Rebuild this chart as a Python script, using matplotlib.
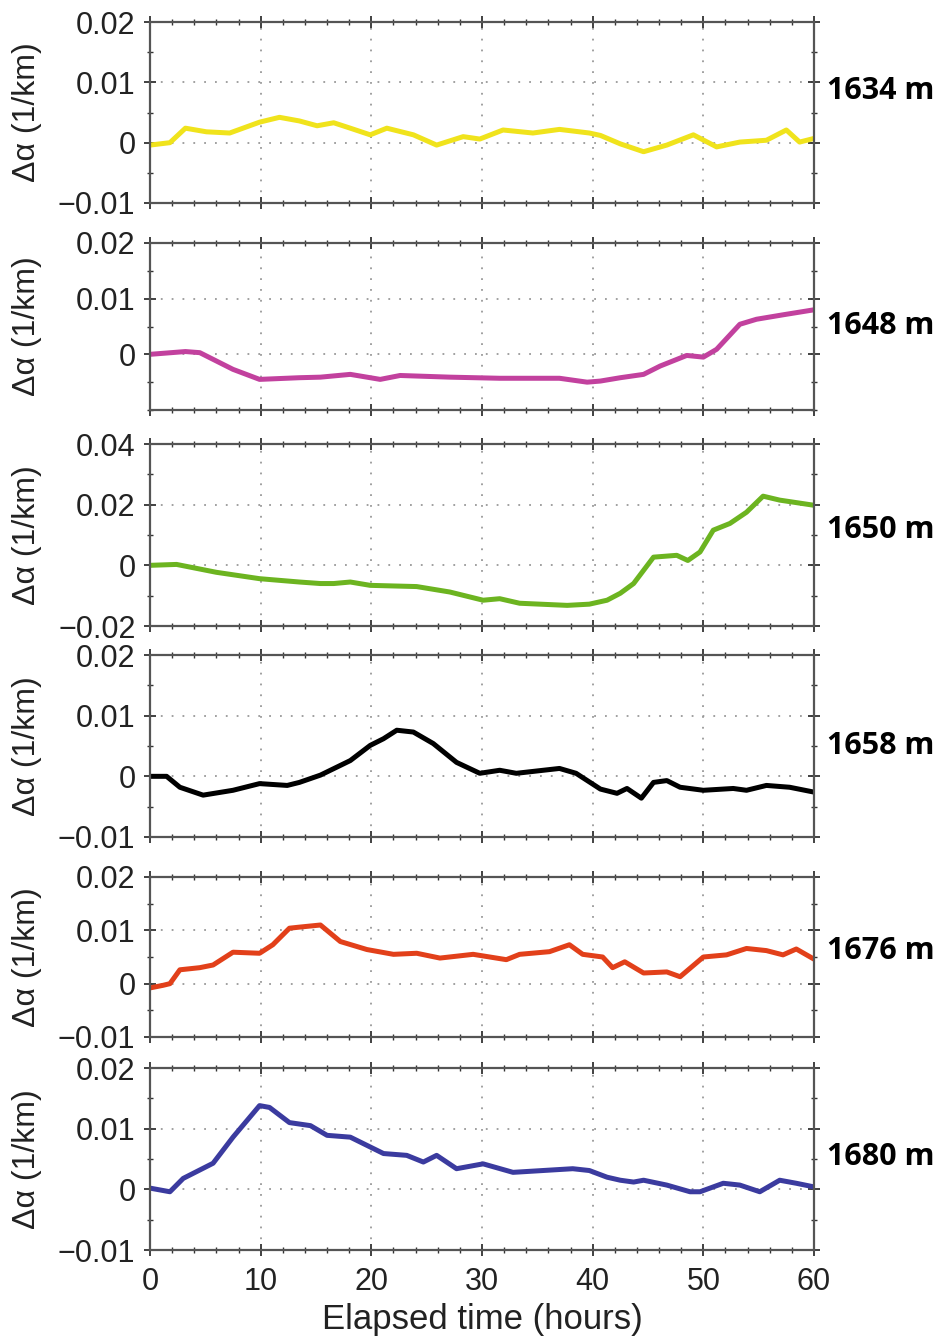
import matplotlib
matplotlib.use("Agg")
import matplotlib.pyplot as plt
from matplotlib.ticker import MultipleLocator, FuncFormatter

plt.rcParams['font.family'] = ['Liberation Sans', 'DejaVu Sans']

# depth labels and line colours
depths = ['1634 m', '1648 m', '1650 m', '1658 m', '1676 m', '1680 m']
colors = ['#f0e31c', '#c2419e', '#6cb420', '#000000', '#e2401a', '#3b3b9f']

# series (hours, 1/km)
t1 = [0, 1.8, 3.2, 5.1, 7.2, 9.9, 11.7, 13.5, 15.1, 16.6, 18.1, 19.9, 21.4, 23.8,
      25.9, 28.3, 29.8, 31.9, 34.6, 37.0, 39.7, 40.7, 42.5, 44.6, 46.7, 49.1, 51.2,
      53.3, 55.7, 57.5, 58.7, 60]
a1 = [-0.0004, 0.0, 0.0024, 0.0018, 0.0016, 0.0034, 0.0042, 0.0036, 0.0028, 0.0033,
      0.0024, 0.0013, 0.0024, 0.0013, -0.0004, 0.001, 0.0006, 0.0021, 0.0016, 0.0022,
      0.0016, 0.0012, -0.0002, -0.0015, -0.0004, 0.0013, -0.0007, 0.0001, 0.0004,
      0.0021, 0.0001, 0.0007]

t2 = [0, 3.2, 4.5, 7.5, 9.9, 13.5, 15.4, 18.1, 20.8, 22.6, 27.1, 31.6, 37.0, 39.5,
      40.7, 42.5, 44.6, 46.1, 48.5, 50.0, 51.2, 53.3, 54.8, 57.2, 60]
a2 = [0.0, 0.0005, 0.0003, -0.0027, -0.0045, -0.0042, -0.0041, -0.0036, -0.0045,
      -0.0038, -0.0041, -0.0043, -0.0043, -0.005, -0.0048, -0.0042, -0.0036,
      -0.0021, -0.0002, -0.0005, 0.0009, 0.0054, 0.0063, 0.0071, 0.008]

t3 = [0, 2.4, 6.0, 9.9, 13.5, 15.4, 16.6, 18.1, 19.9, 24.1, 27.1, 30.1, 31.6, 33.4,
      37.7, 39.7, 41.3, 42.5, 43.7, 45.5, 47.6, 48.6, 49.7, 50.9, 52.4, 53.9, 55.4,
      56.9, 60]
a3 = [0.0, 0.0003, -0.0023, -0.0044, -0.0055, -0.006, -0.006, -0.0055, -0.0066,
      -0.007, -0.0088, -0.0115, -0.011, -0.0125, -0.0132, -0.0128, -0.0115,
      -0.0092, -0.006, 0.0027, 0.0033, 0.0016, 0.0044, 0.0116, 0.0138, 0.0175,
      0.0228, 0.0215, 0.0198]

t4 = [0, 1.5, 2.7, 4.8, 7.5, 9.9, 12.4, 13.5, 15.4, 18.1, 19.9, 21.1, 22.3, 23.8,
      25.6, 27.7, 29.8, 31.6, 33.1, 37.0, 38.5, 40.7, 42.2, 43.1, 44.4, 45.5, 46.7,
      47.9, 50.0, 52.7, 53.9, 55.7, 57.8, 60]
a4 = [0.0, 0.0, -0.0018, -0.0031, -0.0023, -0.0012, -0.0015, -0.001, 0.0002,
      0.0026, 0.0051, 0.0062, 0.0076, 0.0073, 0.0054, 0.0023, 0.0005, 0.001,
      0.0005, 0.0013, 0.0005, -0.0021, -0.0028, -0.002, -0.0036, -0.001, -0.0007,
      -0.0018, -0.0023, -0.002, -0.0023, -0.0015, -0.0018, -0.0026]

t5 = [0, 1.2, 1.8, 2.7, 4.5, 5.7, 7.5, 9.9, 11.1, 12.6, 13.5, 15.4, 17.2, 19.6,
      22.0, 24.1, 26.2, 29.2, 32.2, 33.4, 36.1, 37.9, 39.1, 40.9, 41.8, 42.9, 44.6,
      46.7, 47.9, 50.0, 52.1, 53.9, 55.7, 57.2, 58.4, 60]
a5 = [-0.0008, -0.0003, 0.0, 0.0026, 0.003, 0.0035, 0.0059, 0.0057, 0.0073,
      0.0104, 0.0106, 0.011, 0.0079, 0.0064, 0.0055, 0.0057, 0.0048, 0.0055,
      0.0045, 0.0055, 0.006, 0.0073, 0.0055, 0.005, 0.003, 0.0041, 0.002,
      0.0022, 0.0013, 0.005, 0.0054, 0.0066, 0.0062, 0.0054, 0.0065, 0.0046]

t6 = [0, 1.8, 3.0, 5.7, 7.5, 9.9, 10.8, 12.6, 14.5, 16.0, 18.1, 21.1, 23.2, 24.7,
      25.9, 27.7, 30.1, 32.8, 38.2, 39.7, 41.3, 42.5, 43.7, 44.6, 46.7, 48.8, 49.7,
      51.8, 53.3, 55.1, 56.9, 58.4, 60]
a6 = [0.0002, -0.0004, 0.0018, 0.0043, 0.0086, 0.0138, 0.0135, 0.011, 0.0105,
      0.0089, 0.0086, 0.0059, 0.0056, 0.0045, 0.0056, 0.0034, 0.0042, 0.0028,
      0.0034, 0.0031, 0.002, 0.0015, 0.0012, 0.0015, 0.0007, -0.0004, -0.0004,
      0.001, 0.0007, -0.0004, 0.0015, 0.001, 0.0004]

times = [t1, t2, t3, t4, t5, t6]
alphas = [a1, a2, a3, a4, a5, a6]
ylims = [(-0.01, 0.02), (-0.01, 0.02), (-0.02, 0.04), (-0.01, 0.02), (-0.01, 0.02), (-0.01, 0.02)]
yticks = [[-0.01, 0, 0.01, 0.02], [0, 0.01, 0.02], [-0.02, 0, 0.02, 0.04],
          [-0.01, 0, 0.01, 0.02], [-0.01, 0, 0.01, 0.02], [-0.01, 0, 0.01, 0.02]]
label_y = [0.62, 0.5, 0.53, 0.5, 0.54, 0.51]

# panel pixel extents (top, bottom) in a 1339 px tall figure
panel_px = [(22, 203), (243, 410), (444, 626), (655, 837), (877, 1037), (1068, 1250)]
W, H = 942, 1339
left_px, right_px = 150, 814


def fmt(v, pos):
    if abs(v) < 1e-12:
        return '0'
    s = '%.2f' % v
    return s.replace('-', '\u2212')


fig = plt.figure(figsize=(W / 100, H / 100), dpi=100)

for i in range(6):
    top, bot = panel_px[i]
    ax = fig.add_axes([left_px / W, 1 - bot / H, (right_px - left_px) / W, (bot - top) / H])
    ax.plot(times[i], alphas[i], color=colors[i], linewidth=3.6,
            solid_joinstyle='round', solid_capstyle='round')
    ax.set_xlim(0, 60)
    ax.set_ylim(*ylims[i])
    ax.set_yticks(yticks[i])
    ax.yaxis.set_major_formatter(FuncFormatter(fmt))
    ax.xaxis.set_major_locator(MultipleLocator(10))
    ax.xaxis.set_minor_locator(MultipleLocator(2))
    ax.yaxis.set_minor_locator(MultipleLocator(0.01 if i == 2 else 0.005))
    ax.tick_params(which='both', direction='inout', top=True, right=True,
                   colors='#333333', labelcolor='#222222', labelsize=22, pad=6)
    ax.tick_params(which='major', length=9, width=1.3)
    ax.tick_params(which='minor', length=5, width=1.0)
    ax.tick_params(axis='x', pad=8)
    for sp in ax.spines.values():
        sp.set_color('#555555')
        sp.set_linewidth(1.6)
    # dotted grid at inner major ticks
    for xv in [10, 20, 30, 40, 50]:
        ax.axvline(xv, color='#999999', linestyle=(0, (1, 5)), linewidth=1.3, zorder=0)
    for yv in yticks[i]:
        if ylims[i][0] < yv < ylims[i][1]:
            ax.axhline(yv, color='#999999', linestyle=(0, (1, 5)), linewidth=1.3, zorder=0)
    ax.set_ylabel('\u0394\u03b1 (1/km)', fontsize=23, color='#222222')
    ax.yaxis.set_label_coords(-0.163, 0.5)
    ax.text(1.02, label_y[i], depths[i], transform=ax.transAxes, fontsize=22,
            fontweight='bold', family='Open Sans', va='center', ha='left')
    if i < 5:
        ax.tick_params(axis='x', labelbottom=False)
    else:
        ax.set_xlabel('Elapsed time (hours)', fontsize=25, color='#222222', labelpad=4)

fig.savefig('out.png', dpi=100)
